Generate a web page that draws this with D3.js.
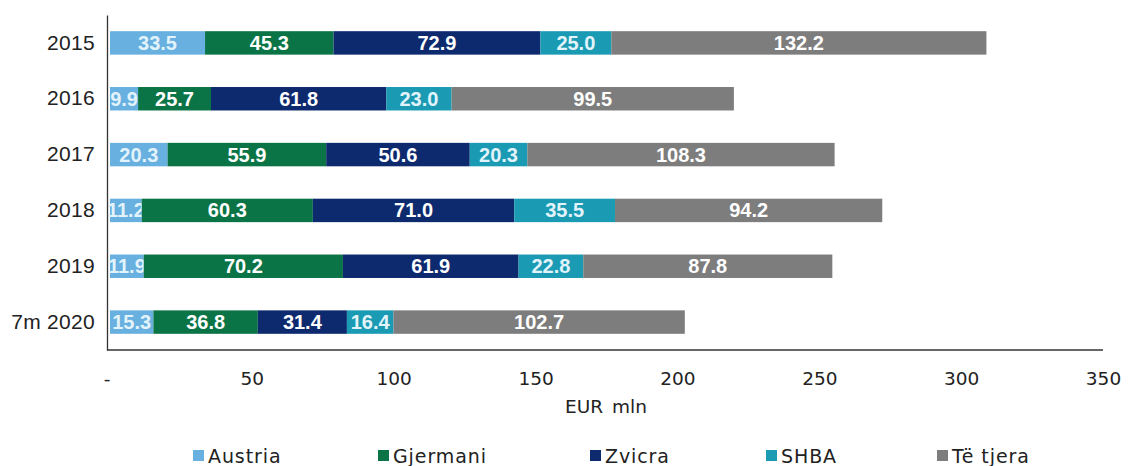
<!DOCTYPE html>
<html><head><meta charset="utf-8">
<script src="https://cdn.jsdelivr.net/npm/d3@7"></script>
<style>body{margin:0;background:#fff}</style>
</head><body>
<svg id="c" width="1129" height="466"></svg>
<script>
const categories = ["2015","2016","2017","2018","2019","7m 2020"];
const seriesNames = ["Austria","Gjermani","Zvicra","SHBA","Të tjera"];
const austria  = [33.5, 9.9, 20.3, 11.2, 11.9, 15.3];
const gjermani = [45.3, 25.7, 55.9, 60.3, 70.2, 36.8];
const zvicra   = [72.9, 61.8, 50.6, 71.0, 61.9, 31.4];
const shba     = [25.0, 23.0, 20.3, 35.5, 22.8, 16.4];
const tjera    = [132.2, 99.5, 108.3, 94.2, 87.8, 102.7];
const xTicks = [0,50,100,150,200,250,300,350];
const colors = ["#67b0df","#0b7446","#0d2a6e","#1a9bb3","#7d7d7d"];

(function(){
const seriesVals = [austria, gjermani, zvicra, shba, tjera];
const rows = categories.map((c,i)=>{const o={cat:c}; seriesNames.forEach((s,j)=>o[s]=seriesVals[j][i]); return o;});
const stack = d3.stack().keys(seriesNames)(rows);

const svg = d3.select("#c");
const axL = 107, mL = 110, mR = 1103, mT = 15, mB = 350;
const x = d3.scaleLinear().domain([0,350]).range([mL,mR]);
const y = d3.scaleBand().domain(categories).range([mT,mB]).paddingInner(0.58).paddingOuter(0.29);

const g = svg.append("g");
stack.forEach((layer,j)=>{
  g.selectAll(null).data(layer).enter().append("rect")
    .attr("x", d=>x(d[0])).attr("width", d=>x(d[1])-x(d[0]))
    .attr("y", d=>y(d.data.cat)).attr("height", y.bandwidth())
    .attr("fill", colors[j]);
  g.selectAll(null).data(layer).enter().append("text")
    .attr("x", d=>(x(d[0])+x(d[1]))/2).attr("y", d=>y(d.data.cat)+y.bandwidth()/2+7)
    .attr("text-anchor","middle").attr("fill", (j===0||j===3)?"#e2f3fb":"#fff")
    .style("font-family","'Liberation Sans',Arial,sans-serif").style("font-weight","bold").style("font-size","20px")
    .text(d=>(d[1]-d[0]).toFixed(1));
});

const xa = svg.append("g").attr("transform",`translate(0,${mB})`)
  .call(d3.axisBottom(x).tickValues(xTicks).tickSize(0).tickPadding(22).tickFormat(d=>d===0?"-":d));
xa.select(".domain").attr("d",`M${axL},0H${mR}`).attr("stroke","#333").attr("stroke-width",1.3);
xa.selectAll(".tick").filter(d=>d===0).attr("transform",`translate(${axL},0)`);
xa.selectAll("text").style("font-family","'DejaVu Sans',Verdana,sans-serif").style("font-size","18.5px").attr("fill","#222");

const ya = svg.append("g").attr("transform",`translate(${axL},0)`)
  .call(d3.axisLeft(y).tickSize(0).tickPadding(12));
ya.select(".domain").attr("stroke","#333").attr("stroke-width",1.3);
ya.selectAll("text").style("font-family","'Liberation Sans',Arial,sans-serif").style("font-size","21px").style("letter-spacing","0.3px").attr("fill","#222");

svg.append("text").attr("x",606).attr("y",413).attr("text-anchor","middle")
  .style("font-family","'DejaVu Sans',Verdana,sans-serif").style("font-size","18.5px").style("word-spacing","3px").attr("fill","#222").text("EUR mln");

const legX = [193, 378, 590, 766, 937];
const lg = svg.selectAll(".leg").data(seriesNames).enter().append("g")
  .attr("transform",(d,i)=>`translate(${legX[i]},0)`);
lg.append("rect").attr("x",0).attr("y",450).attr("width",11).attr("height",11).attr("fill",(d,i)=>colors[i]);
lg.append("text").attr("x",15).attr("y",463)
  .style("font-family","'DejaVu Sans',Verdana,sans-serif").style("font-size","19px").style("letter-spacing","0.9px").attr("fill","#222").text(d=>d);
})();
</script>
</body></html>
